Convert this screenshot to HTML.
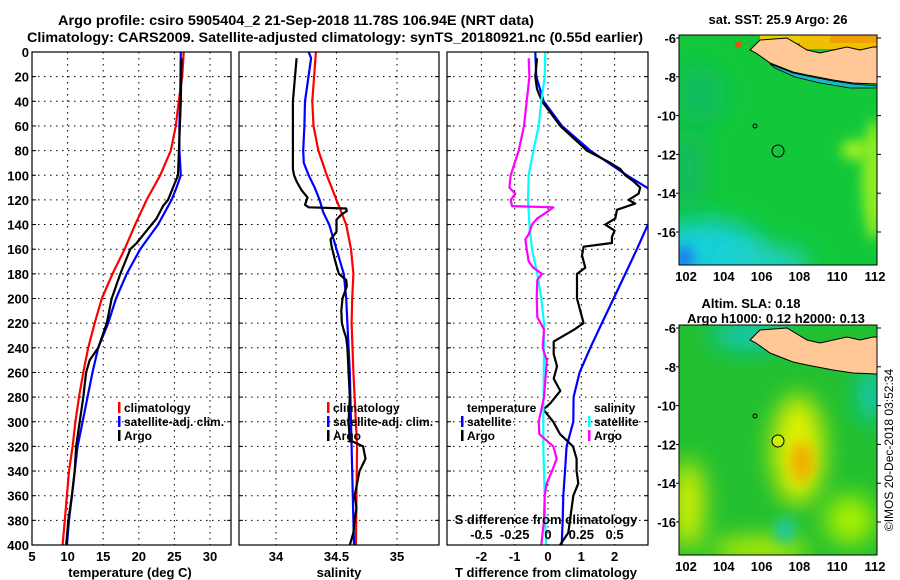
<!DOCTYPE html>
<html><head><meta charset="utf-8"><style>
html,body{margin:0;padding:0;background:#fff;}
svg{display:block;font-family:"Liberation Sans",sans-serif;font-weight:bold;}
</style></head><body>
<svg id="c" width="900" height="580" viewBox="0 0 900 580" xmlns="http://www.w3.org/2000/svg">
<defs>
<clipPath id="cp1"><rect x="32" y="52" width="199" height="493"/></clipPath>
<clipPath id="cp2"><rect x="239" y="52" width="200" height="493"/></clipPath>
<clipPath id="cp3"><rect x="447" y="52" width="201" height="493"/></clipPath>
<clipPath id="cm1"><rect x="679" y="35" width="198" height="230"/></clipPath>
<clipPath id="cm2"><rect x="679" y="325" width="198" height="230"/></clipPath>
<filter id="bl" filterUnits="userSpaceOnUse" x="560" y="0" width="340" height="580"><feGaussianBlur stdDeviation="12"/></filter>
<filter id="bl2" filterUnits="userSpaceOnUse" x="560" y="0" width="340" height="580"><feGaussianBlur stdDeviation="6"/></filter>
</defs>
<text x="296" y="25" text-anchor="middle" font-size="14" textLength="476" lengthAdjust="spacingAndGlyphs">Argo profile: csiro 5905404_2 21-Sep-2018 11.78S 106.94E (NRT data)</text>
<text x="335" y="42" text-anchor="middle" font-size="14" textLength="616" lengthAdjust="spacingAndGlyphs">Climatology: CARS2009. Satellite-adjusted climatology: synTS_20180921.nc (0.55d earlier)</text>
<g id="p1"></g>
<g id="p2"></g>
<g id="p3"></g>
<g id="maps">
 <g clip-path="url(#cm1)">
  <rect x="679" y="35" width="198" height="230" fill="#12c83a"/>
  <ellipse cx="705" cy="255" rx="60" ry="35" fill="#18d0d8" filter="url(#bl)"/>
  <ellipse cx="765" cy="265" rx="45" ry="18" fill="#20d0c8" filter="url(#bl)"/>
  <ellipse cx="684" cy="258" rx="10" ry="12" fill="#1e78f0" filter="url(#bl2)"/>
  <ellipse cx="874" cy="180" rx="12" ry="60" fill="#90ee20" filter="url(#bl2)"/>
  <ellipse cx="855" cy="150" rx="14" ry="10" fill="#a0f020" filter="url(#bl2)"/>
  <ellipse cx="700" cy="95" rx="25" ry="30" fill="#10bc60" filter="url(#bl)"/>
  <ellipse cx="690" cy="170" rx="14" ry="40" fill="#14b868" filter="url(#bl)"/>
  <rect x="800" y="35" width="77" height="14" fill="#f0c000"/>
  <rect x="830" y="35" width="47" height="8" fill="#f0a000"/>
  <rect x="760" y="35" width="40" height="8" fill="#e8d000"/>
  <rect x="735" y="42" width="6" height="6" fill="#d06010"/>
  <path d="M760,40 L787,38 L807,50 L820,53 L847,47 L860,50 L873,47 L877,47 L877,84 L853,83 L833,80 L807,75 L793,72 L770,63 L756,53 L750,50 Z" fill="#ffc896" stroke="#000" stroke-width="1"/>
  <path d="M770,64 L793,73 L807,76 L833,81 L853,84 L877,86 L877,88 L850,88 L820,83 L795,77 L775,68 Z" fill="#18b8c8" stroke="#000" stroke-width="0.8"/>
  <circle cx="755" cy="126" r="2" fill="none" stroke="#000" stroke-width="1"/>
  <circle cx="778" cy="151" r="6" fill="none" stroke="#000" stroke-width="1"/>
 </g>
 <rect x="679" y="35" width="198" height="230" fill="none" stroke="#000" stroke-width="1"/>
 <g clip-path="url(#cm2)">
  <rect x="679" y="325" width="198" height="230" fill="#22c030"/>
  <ellipse cx="798" cy="450" rx="26" ry="55" fill="#e0f000" filter="url(#bl)"/>
  <ellipse cx="802" cy="462" rx="12" ry="20" fill="#f0b000" filter="url(#bl2)"/>
  <ellipse cx="688" cy="505" rx="16" ry="45" fill="#d8f000" filter="url(#bl)"/>
  <ellipse cx="760" cy="550" rx="50" ry="12" fill="#c8f000" filter="url(#bl)"/>
  <ellipse cx="850" cy="520" rx="25" ry="25" fill="#a8f000" filter="url(#bl)"/>
  <ellipse cx="785" cy="530" rx="10" ry="13" fill="#20c8a0" filter="url(#bl2)"/>
  <ellipse cx="872" cy="395" rx="14" ry="28" fill="#10c8b8" filter="url(#bl)"/>
  <ellipse cx="750" cy="335" rx="40" ry="14" fill="#10c8c0" filter="url(#bl)"/>
  <path d="M760,330 L787,328 L807,340 L820,343 L847,337 L860,340 L873,337 L877,337 L877,374 L853,373 L833,370 L807,365 L793,362 L770,353 L756,343 L750,340 Z" fill="#ffc896" stroke="#000" stroke-width="1"/>
  <circle cx="755" cy="416" r="2" fill="none" stroke="#000" stroke-width="1"/>
  <circle cx="778" cy="441" r="6" fill="#c8f000" stroke="#000" stroke-width="1"/>
 </g>
 <rect x="679" y="325" width="198" height="230" fill="none" stroke="#000" stroke-width="1"/>
 <text x="778" y="24" text-anchor="middle" font-size="13">sat. SST: 25.9 Argo: 26</text>
 <text x="751" y="308" text-anchor="middle" font-size="13">Altim. SLA: 0.18</text>
 <text x="776" y="323" text-anchor="middle" font-size="13">Argo h1000: 0.12 h2000: 0.13</text>
 <text transform="translate(893,450) rotate(-90)" text-anchor="middle" font-size="12" font-weight="normal">©IMOS 20-Dec-2018 03:52:34</text>
</g>
</svg>
<script>
// ---------- data ----------
const tDepthClim = [0,20,40,60,80,100,120,140,160,180,200,220,240,260,280,300,320,340,360,380,400];
const tempClim = [26.3,26.1,25.6,25.2,24.5,23.0,21.1,19.5,18.0,16.3,14.8,13.8,12.9,12.2,11.6,11.1,10.7,10.2,9.9,9.6,9.3];
const tDepthSat = [0,40,60,80,100,110,120,140,160,180,200,220,240,260,280,300,320,340,360,380,400];
const tempSat = [25.9,25.8,25.7,25.7,25.9,25.3,24.6,22.7,20.2,18.3,16.8,15.7,14.3,13.5,12.8,12.1,11.4,11.0,10.6,10.2,9.9];
const tDepthArgo = [5,40,100,110,120,125,135,145,155,160,170,180,200,220,240,250,260,280,300,320,340,360,380,400];
const tempArgo = [26.0,25.9,25.5,24.8,24.1,23.4,22.5,21.1,19.7,18.8,18.1,17.4,16.2,15.5,14.3,13.1,12.6,12.2,11.7,11.2,11.0,10.6,10.1,9.8];

const sDepthClim = [0,40,60,80,100,120,140,160,180,200,220,260,320,400];
const salClim = [34.33,34.30,34.31,34.35,34.42,34.50,34.58,34.62,34.64,34.63,34.625,34.64,34.67,34.66];
const sDepthSat = [0,5,40,60,80,90,100,110,120,130,140,160,180,200,220,260,320,400];
const salSat = [34.27,34.29,34.24,34.235,34.225,34.23,34.27,34.32,34.36,34.39,34.44,34.50,34.56,34.58,34.59,34.61,34.625,34.645];
const sDepthArgo = [5,40,95,100,105,112,118,124,126,127,129,132,136,146,152,158,170,180,185,190,200,210,220,226,232,240,260,280,300,315,320,330,340,350,360,370,380,390,400];
const salArgo = [34.17,34.14,34.14,34.15,34.17,34.21,34.26,34.24,34.27,34.58,34.585,34.54,34.50,34.50,34.45,34.46,34.49,34.52,34.58,34.585,34.55,34.54,34.545,34.56,34.58,34.59,34.60,34.61,34.60,34.61,34.72,34.74,34.69,34.67,34.65,34.665,34.65,34.64,34.61];

const dDepthTSat = [0,20,40,60,80,100,110,120,130,140,160,180,200,220,240,260,280,300,320,340,360,380,400];
const dTSat = [-0.38,-0.35,-0.13,0.42,1.27,2.37,2.97,3.5,3.3,3.0,2.67,2.32,1.97,1.62,1.27,0.95,0.77,0.76,0.56,0.51,0.46,0.44,0.41];
const dDepthTArgo = [5,20,30,40,60,80,90,95,100,105,110,115,120,123,128,135,140,145,150,155,158,165,175,180,200,210,220,225,235,245,255,265,275,285,290,300,310,320,330,340,350,360,380,390,400];
const dTArgo = [-0.33,-0.38,-0.33,-0.18,0.37,1.17,1.87,2.17,2.32,2.57,2.77,2.72,2.42,2.62,2.07,2.02,1.72,2.0,1.92,1.92,1.07,1.02,1.12,0.87,0.87,0.97,1.07,0.8,0.17,0.17,0.27,0.17,0.37,0.07,-0.14,0.16,0.36,0.75,0.86,0.86,0.91,0.76,0.66,0.61,0.36];
const dDepthSArgo = [5,20,40,60,80,90,100,110,115,120,125,126,130,135,140,148,152,160,170,175,180,185,200,215,225,240,250,260,280,300,310,320,330,340,350,360,380,400];
const dSArgo = [-0.145,-0.14,-0.16,-0.18,-0.22,-0.25,-0.28,-0.29,-0.245,-0.28,-0.27,0.04,-0.01,-0.08,-0.12,-0.145,-0.17,-0.16,-0.145,-0.11,-0.045,-0.08,-0.085,-0.08,-0.03,-0.04,-0.01,-0.015,-0.03,-0.07,-0.065,0.04,0.065,0.03,-0.01,-0.025,-0.03,-0.05];
const dDepthSSat = [0,20,40,60,80,100,120,140,160,180,200,220,240,300,320,400];
const dSSat = [-0.02,-0.025,-0.05,-0.07,-0.11,-0.145,-0.15,-0.14,-0.12,-0.08,-0.05,-0.03,-0.03,-0.035,-0.035,-0.015];

const depthTicks = [0,20,40,60,80,100,120,140,160,180,200,220,240,260,280,300,320,340,360,380,400];
const tempTicks = [5,10,15,20,25,30];
const salTicks = [34,34.5,35];
const dTTicks = [-2,-1,0,1,2];
const dSTicks = [-0.5,-0.25,0,0.25,0.5];
const dSTickLabels = ['-0.5','-0.25','0','0.25','0.5'];
const mapLonTicks = [102,104,106,108,110,112];
const mapLatTicks = [-6,-8,-10,-12,-14,-16];

// ---------- scales ----------
const TOP=52, BOT=545;
const yD = d => TOP + d*(BOT-TOP)/400;
const xTemp = t => 32 + (t-5)*7.12;
const xSal = s => 276 + (s-34)*121;
const xDT = d => 548 + d*33.3;
const xDS = s => 548 + s*133.2;
const NS='http://www.w3.org/2000/svg';
function el(tag, attrs, parent){const e=document.createElementNS(NS,tag);for(const k in attrs)e.setAttribute(k,attrs[k]);parent.appendChild(e);return e;}
function txt(s,x,y,anchor,size,parent){const t=el('text',{x:x,y:y,'text-anchor':anchor,'font-size':size},parent);t.textContent=s;return t;}

function panel(g, x0, x1, xTicks, xf, clip, gridX){
  el('rect',{x:x0,y:TOP,width:x1-x0,height:BOT-TOP,fill:'#fff'},g);
  const grid=el('g',{stroke:'#000','stroke-width':1,'stroke-dasharray':'1.5,4.5'},g);
  
  
  gridX.forEach(v=>{el('line',{x1:xf(v),x2:xf(v),y1:TOP,y2:BOT},grid);});
  depthTicks.slice(1,-1).forEach(d=>{el('line',{x1:x0,x2:x1,y1:yD(d),y2:yD(d)},grid);});
  const ticks=el('g',{stroke:'#000','stroke-width':1},g);
  depthTicks.forEach(d=>{el('line',{x1:x1-4,x2:x1,y1:yD(d),y2:yD(d)},ticks);el('line',{x1:x0,x2:x0+4,y1:yD(d),y2:yD(d)},ticks);});
  const cg=el('g',{'clip-path':'url(#'+clip+')'},g);
  return cg;
}
function line(cg, depths, vals, xf, color, name){
  const p=el('polyline',{points:depths.map((d,i)=>xf(vals[i]).toFixed(1)+','+yD(d).toFixed(1)).join(' '),fill:'none',stroke:color,'stroke-width':2.2,'stroke-linejoin':'round'},cg);
  
  
}
function frame(g,x0,x1){el('rect',{x:x0,y:TOP,width:x1-x0,height:BOT-TOP,fill:'none',stroke:'#000','stroke-width':1.2},g);}
function legend(g,x,y,color,label,name){
  if(color){el('rect',{x:x-6,y:y-10,width:2.5,height:11,fill:color},g);}
  const t=txt(label,x,y,'start',12,g);
  
  
}

// panel 1
const p1=document.getElementById('p1');
let cg=panel(p1,32,231,tempTicks,xTemp,'cp1',[10,15,20,25,30]);
line(cg,tDepthClim,tempClim,xTemp,'#ff0000','temp-climatology-line');
line(cg,tDepthSat,tempSat,xTemp,'#0000ff','temp-satellite-line');
line(cg,tDepthArgo,tempArgo,xTemp,'#000000','temp-argo-line');
frame(p1,32,231);
depthTicks.forEach(d=>{const t=txt(String(d),29,yD(d)+5,'end',13,p1);});
tempTicks.forEach(v=>{const t=txt(String(v),xTemp(v),561,'middle',13,p1);});
let at=txt('temperature (deg C)',130,577,'middle',13,p1);


legend(p1,124,412,'#ff0000','climatology','legend-climatology');
legend(p1,124,426,'#0000ff','satellite-adj. clim.','legend-satellite-adj');
legend(p1,124,440,'#000000','Argo','legend-argo');

// panel 2
const p2=document.getElementById('p2');
cg=panel(p2,239,439,salTicks,xSal,'cp2',[34,34.5,35]);
line(cg,sDepthClim,salClim,xSal,'#ff0000','sal-climatology-line');
line(cg,sDepthSat,salSat,xSal,'#0000ff','sal-satellite-line');
line(cg,sDepthArgo,salArgo,xSal,'#000000','sal-argo-line');
frame(p2,239,439);
salTicks.forEach(v=>{const t=txt(String(v),xSal(v),561,'middle',13,p2);});
at=txt('salinity',339,577,'middle',13,p2);


legend(p2,333,412,'#ff0000','climatology','legend-climatology-2');
legend(p2,333,426,'#0000ff','satellite-adj. clim.','legend-satellite-adj-2');
legend(p2,333,440,'#000000','Argo','legend-argo-2');

// panel 3
const p3=document.getElementById('p3');
cg=panel(p3,447,648,dTTicks,xDT,'cp3',[-2,-1,0,1,2]);
line(cg,dDepthTSat,dTSat,xDT,'#0000ff','temp-diff-satellite-line');
line(cg,dDepthTArgo,dTArgo,xDT,'#000000','temp-diff-argo-line');
line(cg,dDepthSSat,dSSat,xDS,'#00ffff','sal-diff-satellite-line');
line(cg,dDepthSArgo,dSArgo,xDS,'#ff00ff','sal-diff-argo-line');
frame(p3,447,648);
dTTicks.forEach(v=>{const t=txt(String(v),xDT(v),561,'middle',13,p3);});
dSTicks.forEach((v,i)=>{const t=txt(dSTickLabels[i],xDS(v),539,'middle',13,p3);});
at=txt('S difference from climatology',546,524,'middle',13,p3);


at=txt('T difference from climatology',546,577,'middle',13,p3);


legend(p3,467,412,null,'temperature','legend-temperature-header');
legend(p3,467,426,'#0000ff','satellite','legend-temp-satellite');
legend(p3,467,440,'#000000','Argo','legend-temp-argo');
legend(p3,594,412,null,'salinity','legend-salinity-header');
legend(p3,594,426,'#00ffff','satellite','legend-sal-satellite');
legend(p3,594,440,'#ff00ff','Argo','legend-sal-argo');

// map axes
const maps=document.getElementById('maps');
const lonX = lon => 686 + (lon-102)*18.9;
[[35,265,38],[325,555,328]].forEach(([top,bot,lat6])=>{
  const latY = lat => lat6 + (-6-lat)*19.4;
  mapLatTicks.forEach(l=>{
    const t=txt(String(l),676,latY(l)+5,'end',13,maps);
    
    
    el('line',{x1:877,x2:881,y1:latY(l),y2:latY(l),stroke:'#000'},maps);
    el('line',{x1:679,x2:676,y1:latY(l),y2:latY(l),stroke:'#000'},maps);
  });
  mapLonTicks.forEach(l=>{
    const t=txt(String(l),lonX(l),bot+16,'middle',13,maps);
    
    
  });
});
</script>
</body></html>
